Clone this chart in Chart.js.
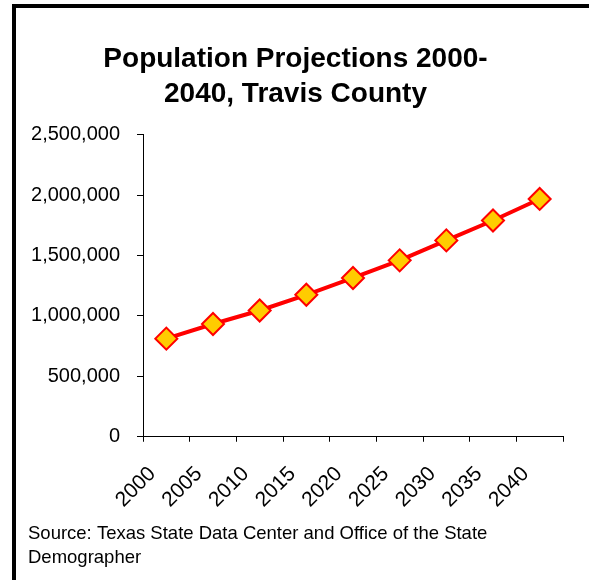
<!DOCTYPE html>
<html>
<head>
<meta charset="utf-8">
<title>Travis County population projections</title>
<script src="https://cdn.jsdelivr.net/npm/chart.js@4"></script>
<style>
  body { margin: 0; background: #fff; }
  #frame {
    position: absolute; left: 12px; top: 4px;
    width: 573px; height: 572px;
    border-left: 4px solid #000; border-top: 4px solid #000;
  }
  #wrap { position: relative; width: 573px; height: 572px; }
</style>
</head>
<body>
<div id="frame"><div id="wrap"><canvas id="popChart"></canvas></div></div>
<script>
// projected population, Travis County
const years = ['2000', '2005', '2010', '2015', '2020', '2025', '2030', '2035', '2040'];
const population = [812000, 933000, 1045000, 1175000, 1314000, 1460000, 1625000, 1790000, 1968000];
const yTicks = [0, 500000, 1000000, 1500000, 2000000, 2500000];

const fontFamily = '"Liberation Sans", Arial, sans-serif';

const popChart = new Chart(document.getElementById('popChart'), {
  type: 'line',
  data: {
    labels: years,
    datasets: [{
      label: 'Population',
      data: population,
      borderColor: '#ff0000',
      borderWidth: 4,
      pointStyle: 'rectRot',
      pointRadius: 11,
      pointBackgroundColor: '#ffcc00',
      pointBorderColor: '#ff0000',
      pointBorderWidth: 2,
      tension: 0
    }]
  },
  options: {
    responsive: true,
    maintainAspectRatio: false,
    animation: false,
    layout: { padding: { left: 12, right: 26, top: 0, bottom: 0 } },
    plugins: {
      legend: { display: false },
      tooltip: { enabled: false },
      title: {
        display: true,
        text: ['Population Projections 2000-', '2040, Travis County'],
        color: '#000',
        font: { family: fontFamily, size: 28, weight: 'bold', lineHeight: 1.28 },
        padding: { top: 33, bottom: 22 }
      },
      subtitle: {
        display: true,
        position: 'bottom',
        align: 'start',
        text: ['Source: Texas State Data Center and Office of the State', 'Demographer'],
        color: '#000',
        font: { family: fontFamily, size: 18.5, lineHeight: 1.25 },
        padding: { top: 0, bottom: 11 }
      }
    },
    scales: {
      x: {
        offset: true,
        grid: { offset: true, drawOnChartArea: false, color: '#000', tickLength: 5 },
        border: { color: '#000', width: 1 },
        ticks: {
          color: '#000',
          font: { family: fontFamily, size: 21 },
          minRotation: 45,
          maxRotation: 45,
          autoSkip: false,
          padding: 20,
          labelOffset: -14
        },
        afterFit: (scale) => { scale.height = 86; }
      },
      y: {
        min: 0,
        max: 2500000,
        afterBuildTicks: (scale) => { scale.ticks = yTicks.map(v => ({ value: v })); },
        grid: { drawOnChartArea: false, color: '#000', tickLength: 6 },
        border: { color: '#000', width: 1 },
        ticks: {
          color: '#000',
          font: { family: fontFamily, size: 20 },
          padding: 17,
          callback: (v) => v.toLocaleString('en-US')
        },
        afterFit: (scale) => { scale.width = 115; }
      }
    }
  }
});
</script>
</body>
</html>
